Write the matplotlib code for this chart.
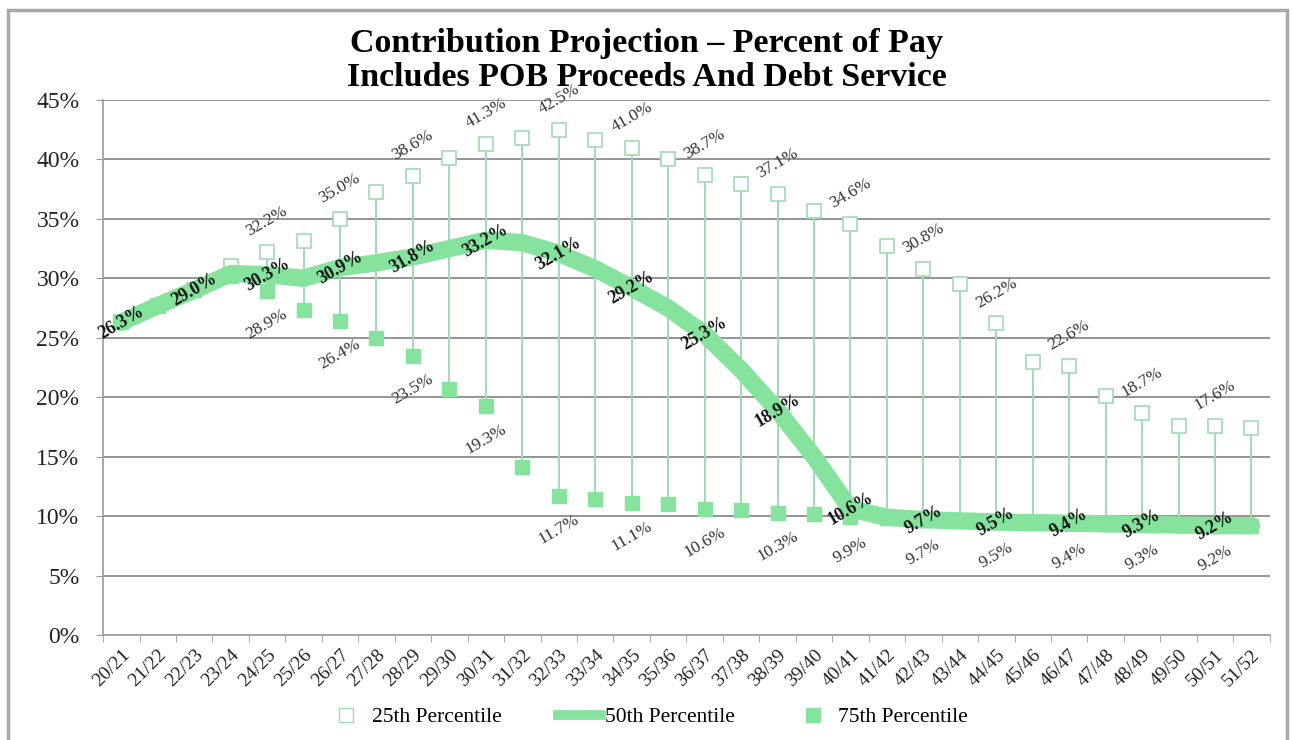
import matplotlib.pyplot as plt
import matplotlib.patches as mpatches
from matplotlib.lines import Line2D
import numpy as np

plt.rcParams['font.family'] = ['Liberation Serif', 'DejaVu Serif']

years = ['20/21', '21/22', '22/23', '23/24', '24/25', '25/26', '26/27', '27/28',
         '28/29', '29/30', '30/31', '31/32', '32/33', '33/34', '34/35', '35/36',
         '36/37', '37/38', '38/39', '39/40', '40/41', '41/42', '42/43', '43/44',
         '44/45', '45/46', '46/47', '47/48', '48/49', '49/50', '50/51', '51/52']

# percent of pay
p25 = [26.3, 27.7, 29.0, 31.0, 32.2, 33.1, 35.0, 37.3, 38.6, 40.1, 41.3, 41.8,
       42.5, 41.6, 41.0, 40.0, 38.7, 37.9, 37.1, 35.7, 34.6, 32.7, 30.8, 29.5,
       26.2, 23.0, 22.6, 20.1, 18.7, 17.6, 17.6, 17.4]
p50 = [26.3, 27.7, 29.0, 30.4, 30.3, 30.0, 30.9, 31.3, 31.8, 32.5, 33.2, 33.0,
       32.1, 30.8, 29.2, 27.5, 25.3, 22.3, 18.9, 15.0, 10.6, 9.9, 9.7, 9.6,
       9.5, 9.45, 9.4, 9.35, 9.3, 9.25, 9.2, 9.2]
p75 = [26.3, 27.7, 29.0, 30.2, 28.9, 27.3, 26.4, 25.0, 23.5, 20.7, 19.3, 14.1,
       11.7, 11.4, 11.1, 11.0, 10.6, 10.5, 10.3, 10.2, 9.9, 9.8, 9.7, 9.6,
       9.5, 9.45, 9.4, 9.35, 9.3, 9.25, 9.2, 9.2]

green = '#86e39e'
pale = '#9fdcb4'
x = np.arange(len(years))

fig = plt.figure(figsize=(12.93, 7.40), dpi=100)
ax = fig.add_axes([0.0797, 0.1419, 0.9023, 0.723])

# high-low lines
ax.vlines(x, p75, p25, color=pale, lw=1.4, zorder=2)
ax.plot(x, p25, ls='', marker='s', ms=10, mfc='white', mec=pale, mew=1.2, zorder=3)
ax.plot(x, p75, ls='', marker='s', ms=10, mfc=green, mec=green, zorder=3)
ax.plot(x, p50, color=green, lw=12.5, solid_capstyle='round',
        solid_joinstyle='round', zorder=4)

for i in range(0, len(years), 2):
    ax.annotate(f'{p50[i]:.1f}%', (x[i], p50[i]), ha='center', va='center',
                rotation=30, fontsize=13, fontweight='bold', color='#111111', zorder=5)
    if i >= 4:
        ax.annotate(f'{p25[i]:.1f}%', (x[i], p25[i]), xytext=(0, 22),
                    textcoords='offset points', ha='center', va='center',
                    rotation=30, fontsize=12.5, color='#333333')
        ax.annotate(f'{p75[i]:.1f}%', (x[i], p75[i]), xytext=(0, -24),
                    textcoords='offset points', ha='center', va='center',
                    rotation=30, fontsize=12.5, color='#333333')

ax.set_xlim(-0.5, len(years) - 0.5)
ax.set_ylim(0, 45)
ax.set_yticks(np.arange(0, 46, 5))
ax.set_yticklabels([f'{v}%' for v in range(0, 46, 5)], fontsize=17, color='#222222')
ax.set_xticks(x)
ax.set_xticklabels(years, rotation=45, ha='right', rotation_mode='anchor',
                   fontsize=14, color='#222222')
ax.set_xticks(np.arange(-0.5, len(years), 1), minor=True)
ax.tick_params(axis='x', which='major', length=0, pad=8)
ax.tick_params(axis='x', which='minor', length=5, color='#999999')
ax.tick_params(axis='y', length=5, color='#999999', pad=12)
ax.grid(axis='y', color='#8c8c8c', lw=1.3)
ax.set_axisbelow(True)
for s in ['top', 'right']:
    ax.spines[s].set_visible(False)
for s in ['left', 'bottom']:
    ax.spines[s].set_color('#a0a0a0')
    ax.spines[s].set_linewidth(1.3)

fig.text(0.5, 0.918, 'Contribution Projection \u2013 Percent of Pay\nIncludes POB Proceeds And Debt Service',
         ha='center', va='center', fontsize=24.5, fontweight='bold', linespacing=1.15)

handles = [Line2D([], [], ls='', marker='s', ms=10, mfc='white', mec=pale),
           Line2D([], [], color=green, lw=7),
           Line2D([], [], ls='', marker='s', ms=10, mfc=green, mec=green)]
fig.legend(handles, ['25th Percentile', '50th Percentile', '75th Percentile'],
           loc='center', bbox_to_anchor=(0.5, 0.031), ncol=3, frameon=False,
           fontsize=15.5, handlelength=2.0, columnspacing=2.6, handletextpad=0.2)

fig.add_artist(mpatches.Rectangle((0.006, -0.02), 0.989, 1.006, transform=fig.transFigure,
                                  fill=False, ec='#a8a8a8', lw=2.5))

plt.savefig('out.png', dpi=100)
